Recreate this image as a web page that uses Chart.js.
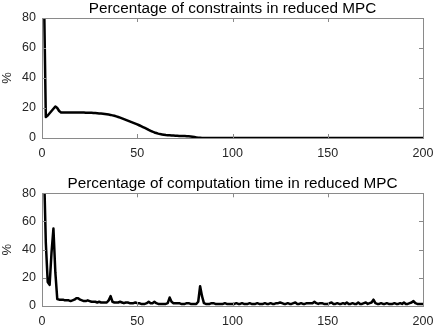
<!DOCTYPE html>
<html>
<head>
<meta charset="utf-8">
<script src="https://cdn.jsdelivr.net/npm/chart.js@4"></script>
<style>
  body { margin: 0; background: #fff; }
  canvas { position: absolute; left: 0; }
  #top { top: 0; }
  #bottom { top: 168px; }
</style>
</head>
<body>
<canvas id="top" width="436" height="168"></canvas>
<canvas id="bottom" width="436" height="168"></canvas>
<script>
// values, one per step (step 1..200)
const constraintPct = [
  100, 14, 15, 16.5, 18, 19.5, 21, 20, 18, 17,
  17, 17, 17, 17, 17, 17, 17, 17, 17, 17,
  17, 17, 16.9, 16.9, 16.8, 16.8, 16.7, 16.6, 16.5, 16.4,
  16.3, 16.2, 16, 15.8, 15.6, 15.4, 15.1, 14.8, 14.4, 14,
  13.6, 13.1, 12.6, 12.1, 11.6, 11.1, 10.6, 10.1, 9.6, 9.1,
  8.5, 7.9, 7.3, 6.7, 6.1, 5.4, 4.8, 4.2, 3.7, 3.3,
  2.9, 2.6, 2.4, 2.2, 2, 1.9, 1.8, 1.7, 1.6, 1.5,
  1.5, 1.4, 1.4, 1.3, 1.3, 1.2, 1.1, 1, 0.8, 0.6,
  0.4, 0.2, 0.1, 0, 0, 0, 0, 0, 0, 0,
  0, 0, 0, 0, 0, 0, 0, 0, 0, 0,
  0, 0, 0, 0, 0, 0, 0, 0, 0, 0,
  0, 0, 0, 0, 0, 0, 0, 0, 0, 0,
  0, 0, 0, 0, 0, 0, 0, 0, 0, 0,
  0, 0, 0, 0, 0, 0, 0, 0, 0, 0,
  0, 0, 0, 0, 0, 0, 0, 0, 0, 0,
  0, 0, 0, 0, 0, 0, 0, 0, 0, 0,
  0, 0, 0, 0, 0, 0, 0, 0, 0, 0,
  0, 0, 0, 0, 0, 0, 0, 0, 0, 0,
  0, 0, 0, 0, 0, 0, 0, 0, 0, 0,
  0, 0, 0, 0, 0, 0, 0, 0, 0, 0
];

const timePct = [
  100, 45, 17, 15, 38, 55, 24, 5, 4.5, 4.5,
  4.5, 4, 4, 4, 3.5, 4, 4.5, 5.5, 5.5, 4.5,
  4, 3.5, 3.5, 4, 3.5, 3, 3, 3, 2.5, 3,
  2.5, 2.5, 2.5, 2.5, 4, 7, 3, 2.5, 2.5, 2.5,
  3, 2.5, 2, 2.5, 2.5, 2, 2, 2, 2.5, 2,
  2, 1.5, 1.5, 1.5, 2, 3, 2, 2, 3, 2,
  1.5, 1.5, 1.5, 1.5, 1.5, 2, 6, 3, 2, 2,
  2, 2, 1.5, 1.5, 1.5, 2, 2, 1.5, 1.5, 1.5,
  1.5, 3, 14, 7, 2, 1.5, 1.5, 1.5, 2, 2,
  1.5, 1.5, 1.5, 1.5, 1.5, 2, 1.5, 1.5, 1.5, 1.5,
  1.5, 2, 1.5, 1.5, 2, 1.5, 1.5, 1.5, 2, 1.5,
  1.5, 1.5, 2, 1.5, 1.5, 1.5, 2, 1.5, 1.5, 2,
  1.5, 1.5, 2, 2, 2.5, 2, 1.5, 1.5, 2, 1.5,
  1.5, 2, 2.5, 1.5, 1.5, 2, 1.5, 1.5, 2, 2,
  2, 2, 3, 2, 1.5, 2, 2, 1.5, 1.5, 1.5,
  2, 2.5, 1.5, 1.5, 2, 1.5, 1.5, 2, 1.5, 2.5,
  1.5, 1.5, 2, 1.5, 1.5, 2.5, 1.5, 1.5, 2, 2.5,
  1.5, 2, 2.5, 4.5, 2, 1.5, 1.5, 2, 1.5, 1.5,
  2, 1.5, 1.5, 1.5, 2, 1.5, 1.5, 2, 1.5, 2.5,
  1.5, 1.5, 2, 2.5, 3.5, 2, 1.5, 1.5, 1.5, 1.5
];

const xTicks = [0, 50, 100, 150, 200];
const yTicks = [0, 20, 40, 60, 80];

const FONT = 'Liberation Sans, Arial, Helvetica, sans-serif';
const AXIS_COLOR = '#8a8a8a';
const TEXT_COLOR = '#262626';

// matlab style: box, ticks pointing inwards, title centred on the axes
const boxPlugin = {
  id: 'box',
  afterDraw(chart, args, opts) {
    const { ctx, chartArea: a, scales } = chart;
    ctx.save();
    ctx.strokeStyle = AXIS_COLOR;
    ctx.lineWidth = 1;
    ctx.beginPath();
    xTicks.forEach(v => {
      const px = Math.round(scales.x.getPixelForValue(v)) + 0.5;
      ctx.moveTo(px, a.bottom); ctx.lineTo(px, a.bottom - 4);
      ctx.moveTo(px, a.top); ctx.lineTo(px, a.top + 4);
    });
    yTicks.forEach(v => {
      const py = Math.round(scales.y.getPixelForValue(v)) + 0.5;
      ctx.moveTo(a.left, py); ctx.lineTo(a.left + 4, py);
      ctx.moveTo(a.right, py); ctx.lineTo(a.right - 4, py);
    });
    ctx.stroke();
    ctx.strokeRect(Math.round(a.left) + 0.5, Math.round(a.top) + 0.5,
      Math.round(a.right - a.left), Math.round(a.bottom - a.top));

    ctx.fillStyle = '#000';
    ctx.font = '15.3px ' + FONT;
    ctx.textAlign = 'center';
    ctx.textBaseline = 'alphabetic';
    ctx.fillText(opts.text, (a.left + a.right) / 2, a.top - 5);
    ctx.restore();
  }
};

function makeChart(id, title, values, padTop) {
  const points = values.map((v, i) => ({ x: i + 1, y: v }));
  return new Chart(document.getElementById(id), {
    type: 'line',
    data: {
      datasets: [{
        data: points,
        borderColor: '#000',
        borderWidth: 2.5,
        borderJoinStyle: 'round',
        pointRadius: 0,
        tension: 0,
        clip: 0
      }]
    },
    options: {
      responsive: false,
      animation: false,
      layout: { padding: { top: padTop, right: 13, left: 0, bottom: 0 } },
      plugins: {
        legend: { display: false },
        tooltip: { enabled: false },
        title: { display: false },
        box: { text: title }
      },
      scales: {
        x: {
          type: 'linear',
          min: 0, max: 200,
          afterBuildTicks: s => { s.ticks = xTicks.map(v => ({ value: v })); },
          afterFit: s => { s.height = 30; s.paddingLeft = 0; s.paddingRight = 0; },
          grid: { display: false, drawTicks: false },
          border: { display: false },
          ticks: { color: TEXT_COLOR, padding: 8, maxRotation: 0,
            font: { family: FONT, size: 12.5 } }
        },
        y: {
          min: 0, max: 80,
          afterBuildTicks: s => { s.ticks = yTicks.map(v => ({ value: v })); },
          afterFit: s => { s.width = 42; s.paddingTop = 0; s.paddingBottom = 0; },
          grid: { display: false, drawTicks: false },
          border: { display: false },
          title: { display: true, text: '%', color: TEXT_COLOR, padding: 0,
            font: { family: FONT, size: 13 } },
          ticks: { color: TEXT_COLOR, padding: 6,
            font: { family: FONT, size: 12.5 } }
        }
      }
    },
    plugins: [boxPlugin]
  });
}

makeChart('top', 'Percentage of constraints in reduced MPC', constraintPct, 18);
makeChart('bottom', 'Percentage of computation time in reduced MPC', timePct, 25.3);
</script>
</body>
</html>
